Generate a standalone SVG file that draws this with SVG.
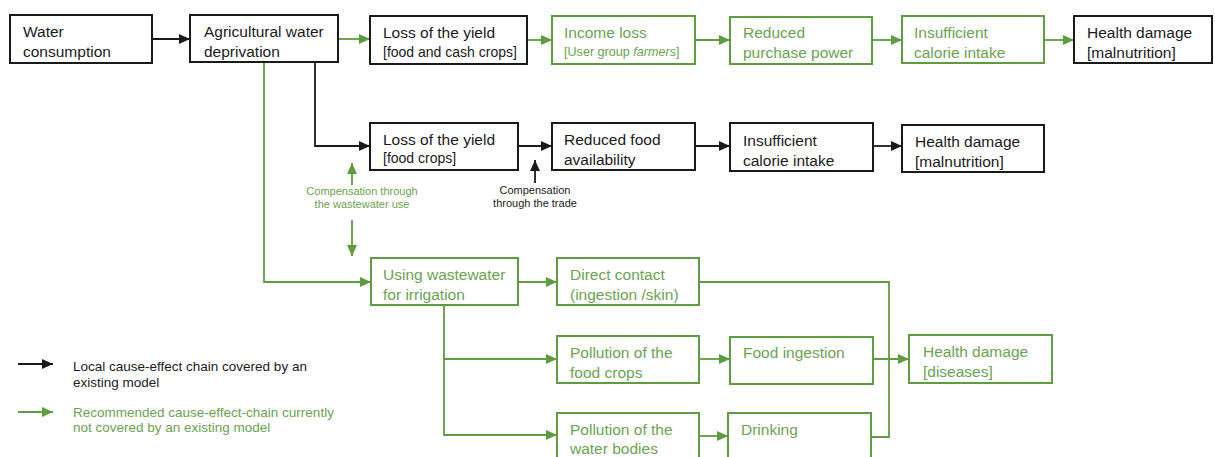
<svg xmlns="http://www.w3.org/2000/svg" width="1215" height="457" viewBox="0 0 1215 457">
<style>
.bk{fill:#fff;stroke:#1a1a1a;stroke-width:2}
.gb{fill:#fff;stroke:#5e9c40;stroke-width:2}
text{font-family:"Liberation Sans",Arial,sans-serif;font-size:15.5px}
.t{fill:#1a1a1a}
.g{fill:#6aa34f}
.sm{font-size:14px}
.xs{font-size:12.6px}
.c{font-size:11px;text-anchor:middle}
.lg{font-size:13.5px}
.kl{fill:none;stroke:#1a1a1a;stroke-width:1.8}
.gl{fill:none;stroke:#5e9c40;stroke-width:1.8}
</style>
<defs>
<marker id="ak" markerUnits="userSpaceOnUse" markerWidth="12" markerHeight="11" refX="11" refY="5" orient="auto"><path d="M0,0 L11,5 L0,10 z" fill="#1a1a1a"/></marker>
<marker id="ag" markerUnits="userSpaceOnUse" markerWidth="12" markerHeight="11" refX="11" refY="5" orient="auto"><path d="M0,0 L11,5 L0,10 z" fill="#5e9c40"/></marker>
</defs>
<rect width="1215" height="457" fill="#fff"/>

<g id="connectors">
<path class="kl" d="M152,39 H190" marker-end="url(#ak)"/>
<path class="gl" d="M338,39 H370" marker-end="url(#ag)"/>
<path class="gl" d="M527,40 H552" marker-end="url(#ag)"/>
<path class="gl" d="M695,40 H730" marker-end="url(#ag)"/>
<path class="gl" d="M872,40 H902" marker-end="url(#ag)"/>
<path class="gl" d="M1044,40 H1074" marker-end="url(#ag)"/>
<path class="kl" d="M315,62 V146 H370" marker-end="url(#ak)"/>
<path class="kl" d="M518,146 H552" marker-end="url(#ak)"/>
<path class="kl" d="M695,146 H730" marker-end="url(#ak)"/>
<path class="kl" d="M873,146 H902" marker-end="url(#ak)"/>
<path class="gl" d="M264,62 V282 H371" marker-end="url(#ag)"/>
<path class="gl" d="M352,185 V163" marker-end="url(#ag)"/>
<path class="gl" d="M352,220 V256" marker-end="url(#ag)"/>
<path class="kl" d="M535,183 V160" marker-end="url(#ak)"/>
<path class="gl" d="M518,282 H557" marker-end="url(#ag)"/>
<path class="gl" d="M444,305 V359 H557" marker-end="url(#ag)"/>
<path class="gl" d="M444,359 V435 H557" marker-end="url(#ag)"/>
<path class="gl" d="M699,359 H730" marker-end="url(#ag)"/>
<path class="gl" d="M699,436 H728" marker-end="url(#ag)"/>
<path class="gl" d="M699,282 H889 V437 H871"/>
<path class="gl" d="M873,359 H909" marker-end="url(#ag)"/>
<path class="kl" d="M18,364 H53" marker-end="url(#ak)"/>
<path class="gl" d="M18,412 H53" marker-end="url(#ag)"/>
</g>

<g id="n-water-consumption"><rect class="bk" x="10" y="15" width="142" height="48"/><text class="t" x="23" y="37">Water</text><text class="t" x="23" y="57">consumption</text></g>
<g id="n-agri"><rect class="bk" x="190" y="15" width="148" height="47"/><text class="t" x="204" y="37">Agricultural water</text><text class="t" x="204" y="57">deprivation</text></g>
<g id="n-loss1"><rect class="bk" x="370" y="16" width="157" height="48"/><text class="t" x="383" y="38">Loss of the yield</text><text class="t sm" x="383" y="57">[food and cash crops]</text></g>
<g id="n-income"><rect class="gb" x="552" y="16" width="143" height="48"/><text class="g" x="564" y="38">Income loss</text><text class="g xs" x="564" y="56">[User group <tspan font-style="italic">farmers</tspan>]</text></g>
<g id="n-purchase"><rect class="gb" x="730" y="17" width="142" height="47"/><text class="g" x="743" y="38">Reduced</text><text class="g" x="743" y="58">purchase power</text></g>
<g id="n-calorie1"><rect class="gb" x="902" y="16" width="142" height="47"/><text class="g" x="914" y="38">Insufficient</text><text class="g" x="914" y="58">calorie intake</text></g>
<g id="n-health1"><rect class="bk" x="1074" y="16" width="138" height="47"/><text class="t" x="1087" y="38">Health damage</text><text class="t" x="1087" y="58">[malnutrition]</text></g>

<g id="n-loss2"><rect class="bk" x="370" y="123" width="148" height="47"/><text class="t" x="383" y="145">Loss of the yield</text><text class="t sm" x="383" y="163">[food crops]</text></g>
<g id="n-foodavail"><rect class="bk" x="552" y="123" width="143" height="47"/><text class="t" x="564" y="145">Reduced food</text><text class="t" x="564" y="165">availability</text></g>
<g id="n-calorie2"><rect class="bk" x="730" y="123" width="143" height="48"/><text class="t" x="743" y="146">Insufficient</text><text class="t" x="743" y="166">calorie intake</text></g>
<g id="n-health2"><rect class="bk" x="902" y="125" width="142" height="47"/><text class="t" x="915" y="147">Health damage</text><text class="t" x="915" y="167">[malnutrition]</text></g>

<g id="lbl-comp-ww"><text class="g c" x="362" y="195">Compensation through</text><text class="g c" x="362" y="208">the wastewater use</text></g>
<g id="lbl-comp-trade"><text class="t c" x="535" y="194">Compensation</text><text class="t c" x="535" y="207">through the trade</text></g>

<g id="n-wastewater"><rect class="gb" x="371" y="258" width="147" height="47"/><text class="g" x="383" y="280">Using wastewater</text><text class="g" x="383" y="300">for irrigation</text></g>
<g id="n-direct"><rect class="gb" x="557" y="258" width="142" height="47"/><text class="g" x="570" y="280">Direct contact</text><text class="g" x="570" y="300">(ingestion /skin)</text></g>
<g id="n-pollfood"><rect class="gb" x="557" y="336" width="142" height="47"/><text class="g" x="570" y="358">Pollution of the</text><text class="g" x="570" y="378">food crops</text></g>
<g id="n-pollwater"><rect class="gb" x="557" y="413" width="142" height="52"/><text class="g" x="570" y="435">Pollution of the</text><text class="g" x="570" y="454">water bodies</text></g>
<g id="n-foodingest"><rect class="gb" x="730" y="337" width="143" height="47"/><text class="g" x="743" y="358">Food ingestion</text></g>
<g id="n-drinking"><rect class="gb" x="728" y="413" width="143" height="52"/><text class="g" x="741" y="435">Drinking</text></g>
<g id="n-health3"><rect class="gb" x="909" y="335" width="143" height="48"/><text class="g" x="923" y="357">Health damage</text><text class="g" x="923" y="377">[diseases]</text></g>

<g id="legend">
<text class="t lg" x="73" y="371">Local cause-effect chain covered by an</text>
<text class="t lg" x="73" y="387">existing model</text>
<text class="g lg" x="73" y="417">Recommended cause-effect-chain  currently</text>
<text class="g lg" x="73" y="432">not covered by an existing model</text>
</g>
</svg>
